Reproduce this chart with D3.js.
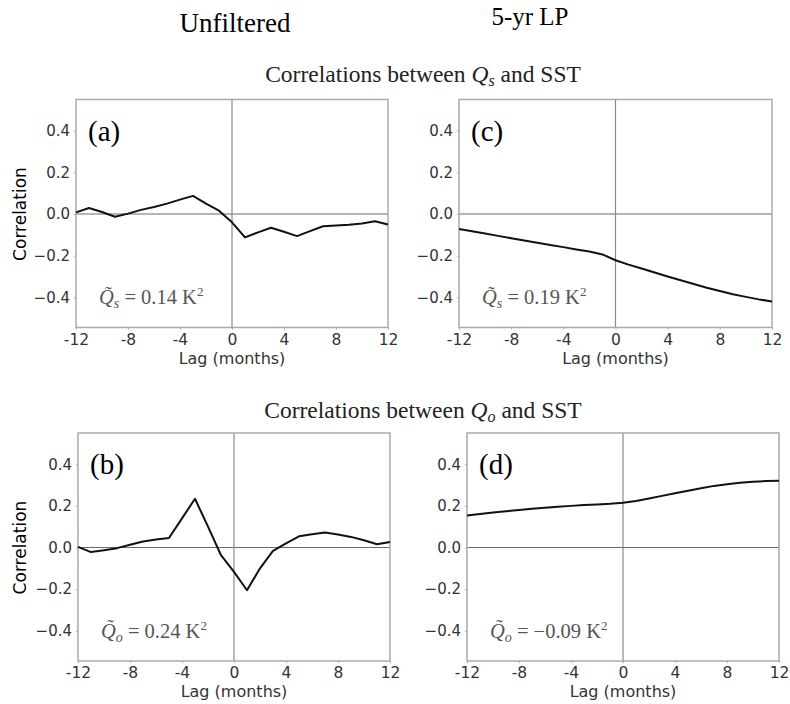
<!DOCTYPE html>
<html>
<head>
<meta charset="utf-8">
<script src="https://cdn.jsdelivr.net/npm/d3@7"></script>
<style>
  body { margin: 0; background: #fff; }
  svg { display: block; }
</style>
</head>
<body>
<div id="chart"></div>
<script>
// lag axis (months)
const lags = d3.range(-12, 13);

// (a) unfiltered Qs vs SST
const corrA = [0.008, 0.029, 0.01, -0.013, 0.002, 0.02, 0.034, 0.05, 0.069, 0.087, 0.05, 0.016,
    -0.04, -0.112, -0.088, -0.066, -0.085, -0.106, -0.082, -0.059, -0.055, -0.051, -0.045, -0.035, -0.05];
// (c) 5-yr LP Qs vs SST
const corrC = [-0.072, -0.083, -0.094, -0.105, -0.116, -0.127, -0.138, -0.149, -0.159, -0.17, -0.18, -0.194,
    -0.222, -0.243, -0.262, -0.281, -0.3, -0.318, -0.336, -0.354, -0.37, -0.385, -0.398, -0.41, -0.42];
// (b) unfiltered Qo vs SST
const corrB = [0.003, -0.022, -0.013, -0.003, 0.013, 0.029, 0.038, 0.046, 0.14, 0.234, 0.1, -0.037,
    -0.117, -0.205, -0.1, -0.016, 0.02, 0.054, 0.064, 0.072, 0.062, 0.051, 0.035, 0.016, 0.026];
// (d) 5-yr LP Qo vs SST
const corrD = [0.154, 0.161, 0.168, 0.174, 0.18, 0.186, 0.191, 0.196, 0.2, 0.204, 0.207, 0.21,
    0.215, 0.223, 0.235, 0.248, 0.261, 0.273, 0.285, 0.296, 0.304, 0.311, 0.316, 0.319, 0.321];

const xTicks = [-12, -8, -4, 0, 4, 8, 12];
const yTicks = [-0.4, -0.2, 0.0, 0.2, 0.4];
const panelLabels = ["(a)", "(c)", "(b)", "(d)"];
const varSub = ["s", "s", "o", "o"];
const varValues = ["0.14", "0.19", "0.24", "\u22120.09"];

const W = 790, H = 704;
const svg = d3.select("#chart").append("svg")
    .attr("width", W)
    .attr("height", H);

const serif = "'Liberation Serif', 'Times New Roman', serif";
const sans = "'DejaVu Sans', sans-serif";

// column headings
svg.append("text")
    .attr("x", 235).attr("y", 32)
    .attr("text-anchor", "middle")
    .attr("font-family", serif)
    .attr("font-size", "27px")
    .attr("fill", "#000")
    .text("Unfiltered");

svg.append("text")
    .attr("x", 530).attr("y", 25)
    .attr("text-anchor", "middle")
    .attr("font-family", serif)
    .attr("font-size", "25px")
    .attr("fill", "#000")
    .text("5-yr LP");

// row titles
function rowTitle(y, sub) {
    const t = svg.append("text")
        .attr("x", 423).attr("y", y)
        .attr("text-anchor", "middle")
        .attr("font-family", serif)
        .attr("font-size", "23.5px")
        .attr("fill", "#222");
    t.append("tspan").text("Correlations between ");
    t.append("tspan").attr("font-style", "italic").text("Q");
    t.append("tspan").attr("font-style", "italic").attr("font-size", "16px").attr("dy", 4).text(sub);
    t.append("tspan").attr("dy", -4).text(" and SST");
}
rowTitle(82, "s");
rowTitle(418, "o");

// panel layout (left, right, top, bottom in px)
const panels = [
    { data: corrA, x0: 76, x1: 388, top: 99.5, bottom: 327.5, ylabel: true },
    { data: corrC, x0: 459, x1: 772, top: 99.5, bottom: 327.5, ylabel: false },
    { data: corrB, x0: 78, x1: 390, top: 433, bottom: 661, ylabel: true },
    { data: corrD, x0: 467, x1: 779, top: 433, bottom: 661, ylabel: false }
];

panels.forEach((p, i) => drawPanel(p, i));

function drawPanel(p, i) {
    const x = d3.scaleLinear().domain([-12, 12]).range([p.x0, p.x1]);
    const y = d3.scaleLinear().domain([-0.545, 0.55]).range([p.bottom, p.top]);

    const g = svg.append("g");

    // zero reference lines
    g.append("line")
        .attr("x1", p.x0).attr("x2", p.x1)
        .attr("y1", y(0)).attr("y2", y(0))
        .attr("stroke", "#6a6a6a").attr("stroke-width", 1.2);
    g.append("line")
        .attr("x1", x(0)).attr("x2", x(0))
        .attr("y1", p.top).attr("y2", p.bottom)
        .attr("stroke", "#8a8a8a").attr("stroke-width", 1.2);

    // axes
    const xAxis = g.append("g")
        .attr("transform", `translate(0,${p.bottom})`)
        .call(d3.axisBottom(x).tickValues(xTicks).tickSize(2).tickPadding(4)
            .tickFormat(d => d < 0 ? "-" + Math.abs(d) : String(d)));
    const yAxis = g.append("g")
        .attr("transform", `translate(${p.x0},0)`)
        .call(d3.axisLeft(y).tickValues(yTicks).tickSize(2).tickPadding(4)
            .tickFormat(d => (d < 0 ? "\u2212" : "") + Math.abs(d).toFixed(1)));

    [xAxis, yAxis].forEach(a => {
        a.select(".domain").remove();
        a.selectAll(".tick line").attr("stroke", "#aaa");
        a.selectAll("text")
            .attr("font-family", sans)
            .attr("font-size", "15px")
            .attr("fill", "#333");
    });
    xAxis.selectAll("text").attr("font-size", "15.5px");

    // frame
    g.append("rect")
        .attr("x", p.x0).attr("y", p.top)
        .attr("width", p.x1 - p.x0).attr("height", p.bottom - p.top)
        .attr("fill", "none")
        .attr("stroke", "#aaa")
        .attr("stroke-width", 1.5);

    // correlation curve
    const line = d3.line()
        .x((d, k) => x(lags[k]))
        .y(d => y(d));
    g.append("path")
        .datum(p.data)
        .attr("fill", "none")
        .attr("stroke", "#111")
        .attr("stroke-width", 2)
        .attr("stroke-linejoin", "round")
        .attr("d", line);

    // x label
    g.append("text")
        .attr("x", (p.x0 + p.x1) / 2)
        .attr("y", p.bottom + 36)
        .attr("text-anchor", "middle")
        .attr("font-family", sans)
        .attr("font-size", "16px")
        .attr("fill", "#333")
        .text("Lag (months)");

    if (p.ylabel) {
        g.append("text")
            .attr("transform", `translate(26,${y(0)}) rotate(-90)`)
            .attr("text-anchor", "middle")
            .attr("font-family", sans)
            .attr("font-size", "17px")
            .attr("fill", "#000")
            .text("Correlation");
    }

    // panel letter
    g.append("text")
        .attr("x", p.x0 + 12)
        .attr("y", y(0.4) + 10)
        .attr("font-family", serif)
        .attr("font-size", "29px")
        .attr("fill", "#000")
        .text(panelLabels[i]);

    // variance annotation
    const t = g.append("text")
        .attr("x", p.x0 + 23)
        .attr("y", y(-0.4) + 7)
        .attr("font-family", serif)
        .attr("font-size", "20.5px")
        .attr("fill", "#555");
    t.append("tspan").attr("font-style", "italic").text("Q\u0303");
    t.append("tspan").attr("font-style", "italic").attr("font-size", "14px").attr("dy", 4).text(varSub[i]);
    t.append("tspan").attr("dy", -4).text(" = " + varValues[i] + " K");
    t.append("tspan").attr("font-size", "13px").attr("dy", -8).text("2");
}
</script>
</body>
</html>
